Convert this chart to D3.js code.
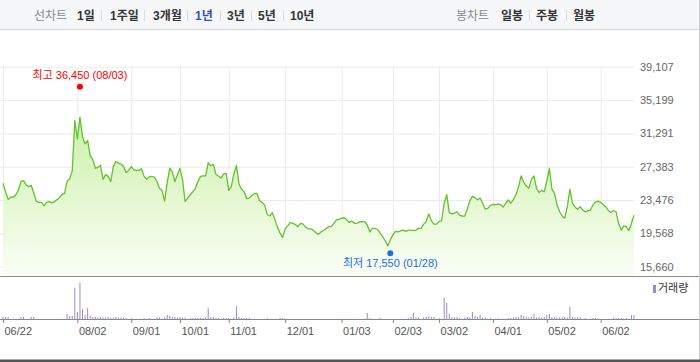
<!DOCTYPE html>
<html>
<head>
<meta charset="utf-8">
<script src="https://cdn.jsdelivr.net/npm/d3@7"></script>
<style>
body { margin: 0; background: #fff; }
svg { display: block; font-family: "Liberation Sans", Arial, "Noto Sans CJK KR", sans-serif; }
</style>
</head>
<body>
<div id="chart"></div>
<script>
// daily closing prices, 2021-06-22 .. 2022-06-22 (one per trading day)
const prices = [
    25450, 24450, 23550, 23800, 23800, 24100, 24650, 25650, 25750, 25250,
    25050, 25200, 24300, 23350, 23200, 23200, 22800, 23200, 23300, 23150,
    23250, 23500, 23750, 24150, 24250, 25700, 25950, 26900, 32800, 30650,
    33200, 30900, 30050, 30450, 28650, 28250, 27200, 27300, 27550, 25900,
    26450, 26250, 25650, 27400, 28000, 27800, 27700, 27400, 26700, 26950,
    27400, 27000, 26950, 26950, 27150, 26250, 25900, 26200, 26250, 26150,
    25650, 24850, 24600, 23350, 25500, 27200, 26800, 25650, 26450, 27200,
    25850, 23300, 23700, 24100, 24450, 24850, 25650, 26250, 26300, 26300,
    27850, 27500, 27650, 26500, 26300, 26050, 26550, 26600, 24600, 25050,
    26550, 27500, 25350, 24750, 24450, 23650, 23700, 24000, 24250, 24250,
    23400, 23200, 22900, 21800, 21600, 22000, 21150, 20300, 19600, 19100,
    20100, 20450, 20850, 20750, 20600, 20350, 20750, 20650, 20300, 20100,
    20100, 19950, 19650, 19450, 19750, 19900, 20150, 20350, 20350, 20750,
    21150, 21200, 21350, 21400, 21150, 20850, 21000, 20750, 20750, 20900,
    20950, 20950, 20550, 19750, 20150, 20150, 20050, 19600, 19200, 18700,
    18100, 18800, 19400, 19800, 19750, 19850, 19950, 19800, 19950, 19950,
    19900, 19950, 20150, 20150, 20650, 20950, 21850, 21050, 20650, 20650,
    20950, 21050, 23100, 24100, 22000, 21850, 21950, 22100, 21700, 21600,
    21600, 22400, 23400, 23900, 23750, 23500, 23700, 23100, 22400, 22500,
    22850, 22950, 22950, 23000, 22950, 22650, 23100, 23500, 23100, 23550,
    24100, 25050, 26300, 25550, 25150, 24850, 25900, 26300, 24850, 24350,
    24600, 24450, 25650, 27200, 24750, 24250, 22900, 22100, 21600, 21350,
    22700, 24750, 23100, 22650, 22400, 22700, 22300, 22100, 22200, 22300,
    22900, 23250, 23350, 23200, 22950, 22700, 22250, 22000, 22250, 22100,
    20750, 19950, 20450, 20350, 19900, 20750, 21700
];

// daily volume (thousand shares)
const volumes = [
    200, 200, 200, 15, 15, 15, 15, 200, 200, 15,
    15, 200, 200, 15, 15, 15, 15, 15, 15, 15,
    15, 15, 15, 15, 15, 500, 300, 300, 3100, 700,
    3600, 1000, 400, 1100, 300, 200, 200, 150, 200, 150,
    150, 200, 150, 150, 200, 150, 150, 150, 100, 15,
    100, 15, 15, 15, 15, 100, 15, 100, 15, 15,
    150, 150, 15, 150, 400, 300, 200, 200, 150, 200,
    150, 150, 15, 100, 100, 100, 100, 100, 100, 150,
    1100, 200, 200, 100, 100, 15, 100, 100, 100, 15,
    150, 1300, 200, 100, 100, 100, 100, 15, 15, 15,
    15, 15, 15, 100, 15, 15, 15, 15, 100, 100,
    15, 15, 15, 15, 15, 15, 15, 15, 15, 15,
    15, 15, 15, 15, 15, 15, 15, 15, 15, 15,
    15, 15, 15, 15, 15, 15, 15, 15, 15, 15,
    15, 15, 600, 100, 15, 15, 15, 100, 15, 15,
    15, 15, 15, 15, 15, 15, 15, 15, 100, 200,
    600, 150, 150, 15, 150, 200, 250, 200, 200, 15,
    100, 15, 2100, 1600, 500, 150, 150, 200, 100, 15,
    150, 200, 150, 700, 300, 200, 400, 150, 150, 15,
    100, 15, 15, 100, 15, 15, 15, 100, 100, 150,
    200, 200, 400, 300, 200, 150, 200, 500, 150, 200,
    150, 200, 400, 500, 200, 150, 150, 150, 150, 200,
    150, 1200, 200, 150, 150, 200, 15, 100, 15, 15,
    100, 100, 15, 15, 15, 15, 15, 15, 100, 100,
    100, 100, 15, 100, 15, 400, 400
];

const yTicks = [15660, 19568, 23476, 27383, 31291, 35199, 39107];
// trading-day index of each month tick
const tickDays = [0, 29, 50, 69, 88, 110, 132, 152, 170, 191, 212, 233];
const tickLabels = ["06/22", "08/02", "09/01", "10/01", "11/01", "12/01",
                    "01/03", "02/03", "03/02", "04/01", "05/02", "06/02"];

const high = { day: 30, value: 36450, date: "08/03" };
const low = { day: 151, value: 17550, date: "01/28" };

const periodMenu = ["1일", "1주일", "3개월", "1년", "3년", "5년", "10년"];
const candleMenu = ["일봉", "주봉", "월봉"];

const width = 700;
const height = 362;
const plotRight = 634;
const priceTop = 66.7, priceBottom = 266.7, priceBase = 276.5;
const volTop = 282.7, volBase = 319;

const svg = d3.select("#chart").append("svg")
    .attr("width", width)
    .attr("height", height);

// menu bar
svg.append("rect")
    .attr("width", width).attr("height", 30)
    .attr("fill", "#f6f7f9");
svg.append("line")
    .attr("x1", 0).attr("x2", width).attr("y1", 29.5).attr("y2", 29.5)
    .attr("stroke", "#d3d5d9");

const menu = svg.append("g").attr("font-size", 12);
menu.append("text").attr("x", 34).attr("y", 19.5).attr("fill", "#888").text("선차트");
menu.append("text").attr("x", 456).attr("y", 19.5).attr("fill", "#888").text("봉차트");

const periodX = [77, 110, 153, 195, 227, 258, 290];
const periodSep = [101, 144, 187, 220, 251, 283];
const candleX = [501, 536, 573];
const candleSep = [529, 566];

menu.selectAll("text.period")
    .data(periodMenu)
    .enter().append("text")
    .attr("class", "period")
    .attr("x", (d, i) => periodX[i])
    .attr("y", 19.5)
    .attr("font-weight", "bold")
    .attr("fill", d => d === "1년" ? "#3450b0" : "#333")
    .text(d => d);

menu.selectAll("text.candle")
    .data(candleMenu)
    .enter().append("text")
    .attr("class", "candle")
    .attr("x", (d, i) => candleX[i])
    .attr("y", 19.5)
    .attr("font-weight", "bold")
    .attr("fill", "#333")
    .text(d => d);

menu.selectAll("line")
    .data(periodSep.concat(candleSep))
    .enter().append("line")
    .attr("x1", d => d + 0.5).attr("x2", d => d + 0.5)
    .attr("y1", 10).attr("y2", 21)
    .attr("stroke", "#dcdcdc");

// scales
const x = d3.scaleLinear()
    .domain([0, prices.length - 1])
    .range([3, plotRight]);

const y = d3.scaleLinear()
    .domain([yTicks[0], yTicks[yTicks.length - 1]])
    .range([priceBottom, priceTop]);

const yv = d3.scaleLinear()
    .domain([0, d3.max(volumes)])
    .range([volBase, volTop]);

// grid + price labels
const yAxis = svg.append("g")
    .attr("transform", `translate(${plotRight},0)`)
    .call(d3.axisRight(y).tickValues(yTicks).tickSize(-plotRight).tickPadding(6)
        .tickFormat(d3.format(",")));
yAxis.select(".domain").remove();
yAxis.selectAll("line").attr("stroke", "#ebebeb");
yAxis.selectAll("text").attr("fill", "#666").attr("font-size", 11);

const xGrid = svg.append("g")
    .attr("transform", `translate(0,${priceBase})`)
    .call(d3.axisBottom(x).tickValues(tickDays).tickSize(-(priceBase - priceTop)).tickFormat(""));
xGrid.select(".domain").remove();
xGrid.selectAll("line").attr("stroke", "#ebebeb");

// area + line
const defs = svg.append("defs");
const grad = defs.append("linearGradient")
    .attr("id", "fillGrad")
    .attr("gradientUnits", "userSpaceOnUse")
    .attr("x1", 0).attr("x2", 0).attr("y1", 85).attr("y2", priceBase);
grad.append("stop").attr("offset", "0%").attr("stop-color", "#c3ed99");
grad.append("stop").attr("offset", "100%").attr("stop-color", "#fafef6");

const area = d3.area()
    .x((d, i) => x(i))
    .y0(priceBase)
    .y1(d => y(d));

const line = d3.line()
    .x((d, i) => x(i))
    .y(d => y(d));

svg.append("path")
    .datum(prices)
    .attr("d", area)
    .attr("fill", "url(#fillGrad)");

svg.append("path")
    .datum(prices)
    .attr("d", line)
    .attr("fill", "none")
    .attr("stroke", "#62c22c")
    .attr("stroke-width", 1.3)
    .attr("stroke-linejoin", "round");

// separator between price and volume panes
svg.append("line")
    .attr("x1", 0).attr("x2", width).attr("y1", priceBase).attr("y2", priceBase)
    .attr("stroke", "#8c8c8c");

// high / low markers
svg.append("circle")
    .attr("cx", x(high.day)).attr("cy", y(high.value) - 2.5).attr("r", 3)
    .attr("fill", "#f00");
svg.append("text")
    .attr("x", x(high.day)).attr("y", y(high.value) - 13)
    .attr("text-anchor", "middle").attr("dominant-baseline", "middle")
    .attr("font-size", 11).attr("fill", "#f00")
    .text(`최고 ${d3.format(",")(high.value)} (${high.date})`);

svg.append("circle")
    .attr("cx", x(low.day)).attr("cy", y(low.value) + 2.7).attr("r", 3)
    .attr("fill", "#1e6fdc");
svg.append("text")
    .attr("x", x(low.day)).attr("y", y(low.value) + 13.5)
    .attr("text-anchor", "middle").attr("dominant-baseline", "middle")
    .attr("font-size", 11).attr("fill", "#1e6fdc")
    .text(`최저 ${d3.format(",")(low.value)} (${low.date})`);

// volume bars
svg.append("g")
    .selectAll("rect")
    .data(volumes)
    .enter().append("rect")
    .attr("x", (d, i) => x(i) - 0.5)
    .attr("width", 1)
    .attr("y", d => yv(d))
    .attr("height", d => volBase - yv(d))
    .attr("fill", "#9b88d2");

// volume legend
svg.append("rect")
    .attr("x", 653).attr("y", 285).attr("width", 3).attr("height", 8)
    .attr("fill", "#9b88d2");
svg.append("text")
    .attr("x", 658).attr("y", 289).attr("dominant-baseline", "middle")
    .attr("font-size", 11).attr("fill", "#333")
    .text("거래량");

// date axis
const xAxis = svg.append("g")
    .attr("transform", `translate(0,${volBase})`)
    .call(d3.axisBottom(x).tickValues(tickDays).tickSize(4).tickPadding(4)
        .tickFormat((d, i) => tickLabels[i]));
xAxis.select(".domain").remove();
xAxis.selectAll("line").attr("stroke", "#888");
xAxis.selectAll("text")
    .attr("text-anchor", "start")
    .attr("x", 1)
    .attr("fill", "#555")
    .attr("font-size", 11);

svg.append("line")
    .attr("x1", 0).attr("x2", width).attr("y1", volBase + 0.5).attr("y2", volBase + 0.5)
    .attr("stroke", "#888");

// frame
svg.append("line")
    .attr("x1", 699.5).attr("x2", 699.5).attr("y1", 0).attr("y2", height)
    .attr("stroke", "#cfcfcf");
svg.append("rect")
    .attr("x", 0).attr("y", 359.5).attr("width", width).attr("height", 2.5)
    .attr("fill", "#555");
</script>
</body>
</html>
